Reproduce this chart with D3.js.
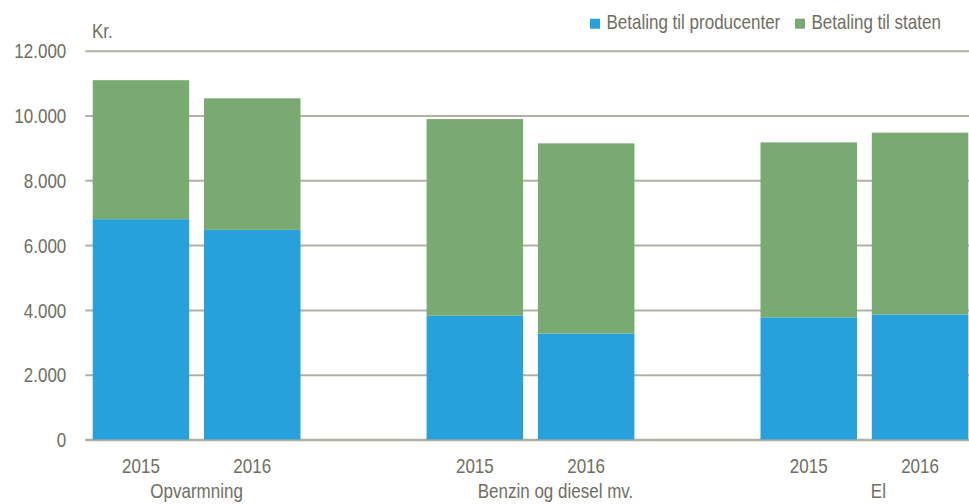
<!DOCTYPE html>
<html>
<head>
<meta charset="utf-8">
<script src="https://cdn.jsdelivr.net/npm/d3@7"></script>
<style>
  body { margin: 0; background: #fff; }
  text { font-family: "Liberation Sans", Arial, sans-serif; fill: #6f6e61; }
</style>
</head>
<body>
<svg id="chart" width="969" height="504"></svg>
<script>
// data
let groups = ['Opvarmning', 'Benzin og diesel mv.', 'El']
let years = ['2015', '2016']
let producenter = [6800, 6470, 3820, 3270, 3770, 3860]
let staten = [4290, 4060, 6070, 5870, 5400, 5610]
let yTicks = [0, 2000, 4000, 6000, 8000, 10000, 12000]
let seriesNames = ['Betaling til producenter', 'Betaling til staten']

// layout
let plotLeft = 85.3, plotRight = 975.7, plotTop = 50.7, plotBottom = 439.5
let colors = ['#26a1dc', '#78aa72']
let groupLabelShift = [0, 25, 14]
let fontSize = 20
let squeeze = 0.85   // the original font is a narrow face

let svg = d3.select('#chart')

// narrow text: place at (x,y) and squeeze horizontally
function narrowText(parent, x, y, str, anchor) {
    return parent.append('text')
        .attr('transform', `translate(${x},${y}) scale(${squeeze},1)`)
        .attr('text-anchor', anchor || 'start')
        .attr('font-size', fontSize + 'px')
        .text(str)
}

// slots: two years per group, one empty slot between groups
let slots = []
let rows = []
let k = 0
groups.forEach((g, gi) => {
    years.forEach(yr => {
        let id = g + '|' + yr
        slots.push(id)
        rows.push({id: id, year: yr, group: g, producenter: producenter[k], staten: staten[k]})
        k++
    })
    if (gi < groups.length - 1) slots.push('gap' + gi)
})

let x = d3.scaleBand()
    .domain(slots)
    .range([plotLeft, plotRight])
    .paddingInner(0.133)
    .paddingOuter(0.0665)

let y = d3.scaleLinear()
    .domain([0, 12000])
    .range([plotBottom, plotTop])

let locale = d3.formatLocale({decimal: ',', thousands: '.', grouping: [3], currency: ['', '']})
let fmt = locale.format(',')

// gridlines + tick labels
let yAxis = svg.append('g')
    .attr('transform', `translate(${plotLeft},0)`)
    .call(d3.axisLeft(y).tickValues(yTicks).tickFormat(fmt).tickSize(-(plotRight - plotLeft)).tickPadding(19))

yAxis.select('.domain').remove()
yAxis.selectAll('.tick line')
    .attr('stroke', '#b3b0a4')
    .attr('stroke-width', d => d === 0 ? 2.5 : 2)
yAxis.selectAll('.tick text')
    .attr('font-size', fontSize + 'px')
    .attr('x', -19 / squeeze)
    .attr('dy', '0.36em')
    .attr('transform', `scale(${squeeze},1)`)
    .style('fill', '#6f6e61')

// stacked bars
let stacked = d3.stack().keys(['producenter', 'staten'])(rows)

svg.append('g')
    .selectAll('g')
    .data(stacked)
    .join('g')
    .attr('fill', (d, i) => colors[i])
    .selectAll('rect')
    .data(d => d.map(p => ({p: p, id: p.data.id})))
    .join('rect')
    .attr('x', d => x(d.id))
    .attr('width', x.bandwidth())
    .attr('y', d => y(d.p[1]))
    .attr('height', d => y(d.p[0]) - y(d.p[1]))

// year labels
let yearG = svg.append('g')
rows.forEach(d => {
    narrowText(yearG, x(d.id) + x.bandwidth() / 2, 472.5, d.year, 'middle')
})

// group labels
let groupG = svg.append('g')
groups.forEach((g, i) => {
    let a = x(g + '|' + years[0])
    let b = x(g + '|' + years[1]) + x.bandwidth()
    narrowText(groupG, (a + b) / 2 + groupLabelShift[i], 498, g, 'middle')
})

// unit
narrowText(svg, 92, 37.5, 'Kr.')

// legend
let legend = svg.append('g')
let legX = [590, 795]
seriesNames.forEach((name, i) => {
    legend.append('rect')
        .attr('x', legX[i])
        .attr('y', 18.7)
        .attr('width', 10)
        .attr('height', 10)
        .attr('fill', colors[i])
    narrowText(legend, legX[i] + 16.5, 29, name)
})
</script>
</body>
</html>
